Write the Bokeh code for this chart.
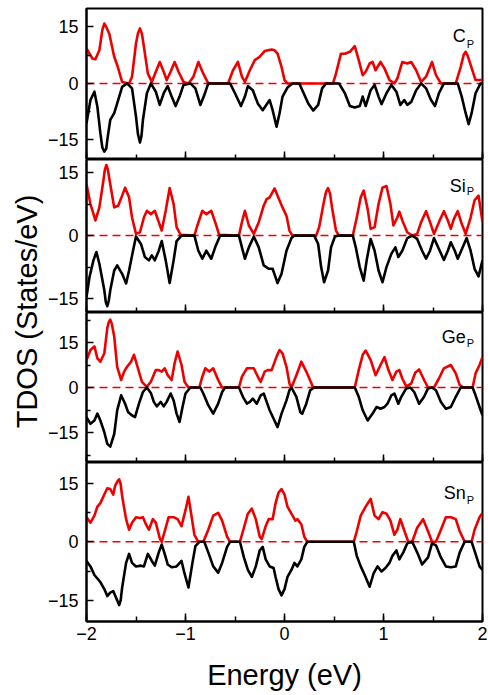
from bokeh.plotting import figure
from bokeh.layouts import column, row
from bokeh.models import Range1d, SingleIntervalTicker, FixedTicker, Span, Label
from bokeh.embed import file_html
from bokeh.resources import INLINE

# ---------------- data (energy eV, TDOS states/eV) ----------------
C_up = [(-2.00,9.3),(-1.94,6.6),(-1.91,6.4),(-1.87,8.8),(-1.84,14.2),(-1.82,15.9),(-1.80,15.0),(-1.77,13.2),(-1.72,7.1),(-1.69,4.9),(-1.64,0.4),(-1.57,0),(-1.54,1.8),(-1.50,10.6),(-1.48,13.3),(-1.46,14.6),(-1.44,13.2),(-1.42,9.7),(-1.38,2.6),(-1.34,0.4),(-1.30,3.1),(-1.26,5.7),(-1.22,3.1),(-1.19,0.9),(-1.15,3.1),(-1.11,5.7),(-1.07,3.1),(-1.02,0.4),(-0.97,0),(-0.92,1.8),(-0.87,5.7),(-0.82,2.6),(-0.77,0),(-0.57,0),(-0.52,3.5),(-0.47,5.7),(-0.43,1.8),(-0.40,0.4),(-0.35,3.5),(-0.30,6.2),(-0.25,7.1),(-0.20,8.6),(-0.13,9.0),(-0.10,8.8),(-0.07,7.9),(-0.03,4.4),(0.00,0.9),(0.03,0),(0.49,0),(0.52,2.6),(0.57,7.9),(0.61,7.9),(0.66,8.4),(0.71,9.9),(0.75,6.2),(0.79,2.2),(0.82,3.1),(0.86,5.3),(0.89,5.7),(0.92,3.5),(0.97,5.7),(1.01,4.0),(1.06,0.9),(1.11,0),(1.14,1.3),(1.19,5.7),(1.24,5.3),(1.28,5.7),(1.33,3.5),(1.38,0.4),(1.43,1.8),(1.49,5.7),(1.53,2.2),(1.58,0),(1.73,0),(1.78,4.4),(1.81,7.6),(1.83,8.4),(1.85,7.4),(1.88,4.9),(1.93,0.9),(2.00,0.9)]
C_dn = [(-2.00,-10.6),(-1.96,-4.4),(-1.92,-2.2),(-1.89,-6.2),(-1.86,-13.2),(-1.84,-17.0),(-1.82,-18.1),(-1.80,-17.3),(-1.79,-15.0),(-1.76,-9.7),(-1.72,-7.9),(-1.69,-5.3),(-1.64,-0.9),(-1.59,0),(-1.54,-1.3),(-1.50,-8.8),(-1.48,-13.5),(-1.46,-15.7),(-1.445,-14.0),(-1.43,-9.7),(-1.39,-2.6),(-1.35,0),(-1.30,-2.2),(-1.26,-5.7),(-1.22,-2.6),(-1.18,-0.7),(-1.14,-3.5),(-1.10,-6.0),(-1.06,-3.5),(-1.02,-0.4),(-0.95,0),(-0.90,-1.3),(-0.85,-5.7),(-0.81,-3.1),(-0.77,0),(-0.55,0),(-0.50,-2.6),(-0.44,-6.0),(-0.40,-3.5),(-0.37,-0.7),(-0.32,-1.8),(-0.27,-5.3),(-0.22,-7.1),(-0.15,-4.4),(-0.12,-7.1),(-0.08,-11.5),(-0.05,-7.9),(-0.02,-3.5),(0.03,-1.1),(0.08,0),(0.15,0),(0.18,-1.8),(0.24,-5.3),(0.29,-7.2),(0.34,-5.7),(0.38,-1.3),(0.42,0),(0.55,0),(0.61,-2.6),(0.66,-6.0),(0.71,-6.4),(0.76,-6.0),(0.79,-3.5),(0.82,-6.0),(0.87,-1.8),(0.91,-0.4),(0.95,-3.5),(0.98,-5.5),(1.03,-2.6),(1.08,-0.4),(1.13,-2.2),(1.17,-5.7),(1.21,-4.4),(1.24,-5.7),(1.28,-4.9),(1.33,-1.8),(1.38,0),(1.43,-1.3),(1.48,-4.4),(1.52,-6.0),(1.56,-2.6),(1.61,0),(1.75,0),(1.79,-3.5),(1.83,-7.9),(1.86,-10.8),(1.89,-7.9),(1.93,-2.6),(1.98,0),(2.00,0)]

Si_up = [(-2.00,12.2),(-1.96,7.5),(-1.91,3.6),(-1.87,6.7),(-1.83,13.0),(-1.815,15.6),(-1.80,16.8),(-1.785,15.8),(-1.76,12.2),(-1.72,6.7),(-1.68,7.1),(-1.64,9.5),(-1.61,11.4),(-1.57,9.1),(-1.54,4.3),(-1.50,0.4),(-1.46,0.8),(-1.42,4.3),(-1.39,5.9),(-1.35,5.1),(-1.31,5.9),(-1.27,3.2),(-1.24,1.2),(-1.20,5.9),(-1.16,11.3),(-1.12,7.5),(-1.09,2.0),(-1.05,0.2),(-0.91,0),(-0.88,2.4),(-0.83,5.9),(-0.79,5.1),(-0.74,5.9),(-0.70,3.2),(-0.66,0.2),(-0.46,0),(-0.43,3.2),(-0.40,5.9),(-0.36,2.4),(-0.31,0.4),(-0.26,3.2),(-0.21,7.1),(-0.18,8.7),(-0.15,9.1),(-0.10,11.2),(-0.07,9.5),(-0.02,6.7),(0.02,4.7),(0.05,1.2),(0.08,0),(0.32,0),(0.35,2.0),(0.40,8.3),(0.42,10.4),(0.44,11.3),(0.46,10.0),(0.48,6.7),(0.52,1.2),(0.55,0),(0.69,0),(0.73,4.3),(0.77,9.1),(0.80,10.7),(0.84,6.3),(0.87,1.6),(0.91,2.0),(0.95,7.5),(0.99,11.4),(1.03,11.8),(1.07,7.5),(1.10,2.4),(1.14,4.3),(1.16,5.7),(1.19,3.6),(1.24,0.8),(1.29,0),(1.34,0.4),(1.38,3.2),(1.43,5.8),(1.47,3.2),(1.51,0.4),(1.56,3.2),(1.61,5.8),(1.65,3.6),(1.68,1.6),(1.71,3.9),(1.75,5.8),(1.79,2.8),(1.83,0.4),(1.88,4.3),(1.92,8.4),(1.96,9.5),(2.00,3.2)]
Si_dn = [(-2.00,-14.6),(-1.97,-9.9),(-1.93,-5.9),(-1.90,-3.9),(-1.87,-6.7),(-1.82,-13.0),(-1.805,-15.8),(-1.79,-16.8),(-1.775,-15.5),(-1.76,-13.0),(-1.72,-8.3),(-1.69,-7.1),(-1.64,-9.1),(-1.60,-11.4),(-1.57,-8.3),(-1.53,-3.6),(-1.50,-0.2),(-1.45,-2.0),(-1.41,-5.1),(-1.37,-5.9),(-1.34,-4.7),(-1.31,-5.9),(-1.27,-3.6),(-1.24,-1.3),(-1.20,-5.9),(-1.16,-11.3),(-1.12,-5.9),(-1.09,-1.3),(-1.04,0),(-0.91,0),(-0.87,-3.6),(-0.83,-5.5),(-0.79,-3.6),(-0.74,-5.5),(-0.70,-2.8),(-0.65,0),(-0.46,0),(-0.43,-2.8),(-0.40,-5.5),(-0.36,-2.8),(-0.31,-0.2),(-0.26,-2.8),(-0.21,-7.1),(-0.16,-7.9),(-0.12,-7.9),(-0.07,-11.3),(-0.03,-9.1),(0.02,-3.6),(0.07,-0.6),(0.10,0),(0.30,0),(0.34,-2.0),(0.37,-7.5),(0.40,-11.1),(0.44,-8.3),(0.47,-2.8),(0.51,-0.2),(0.55,0),(0.69,0),(0.72,-2.8),(0.76,-7.5),(0.80,-10.7),(0.83,-5.9),(0.87,-0.8),(0.91,-3.6),(0.95,-8.3),(0.99,-11.1),(1.03,-7.5),(1.08,-4.3),(1.12,-2.8),(1.15,-5.1),(1.19,-3.6),(1.24,-0.6),(1.29,0),(1.34,-0.8),(1.39,-3.6),(1.43,-5.5),(1.47,-3.6),(1.51,-0.6),(1.56,-3.2),(1.61,-5.8),(1.65,-3.6),(1.68,-1.6),(1.72,-3.6),(1.75,-5.5),(1.80,-2.8),(1.84,-0.6),(1.88,-3.6),(1.92,-7.9),(1.96,-9.7),(2.00,-5.9)]

Ge_up = [(-2.00,9.2),(-1.96,12.5),(-1.92,13.7),(-1.89,9.7),(-1.86,8.6),(-1.82,11.4),(-1.79,19.8),(-1.775,21.8),(-1.76,22.6),(-1.745,21.3),(-1.72,17.0),(-1.69,6.9),(-1.65,2.5),(-1.62,5.3),(-1.59,6.9),(-1.55,8.6),(-1.52,10.9),(-1.49,7.5),(-1.44,1.9),(-1.39,0.2),(-1.35,1.9),(-1.30,5.8),(-1.27,5.8),(-1.24,5.3),(-1.21,6.4),(-1.18,4.1),(-1.14,2.5),(-1.11,8.1),(-1.08,12.0),(-1.04,7.5),(-1.01,1.9),(-0.97,0),(-0.86,0),(-0.83,3.6),(-0.80,6.4),(-0.76,5.3),(-0.72,6.4),(-0.67,2.5),(-0.63,0),(-0.46,0),(-0.43,3.6),(-0.38,6.4),(-0.31,6.4),(-0.26,3.0),(-0.24,1.9),(-0.20,5.3),(-0.17,5.8),(-0.13,5.8),(-0.08,10.3),(-0.05,12.5),(-0.02,11.4),(0.02,6.9),(0.05,1.3),(0.07,0),(0.12,4.1),(0.17,8.6),(0.22,5.3),(0.29,0),(0.71,0),(0.75,5.8),(0.79,10.9),(0.82,12.3),(0.87,9.2),(0.92,4.1),(0.97,7.5),(1.01,10.1),(1.05,5.8),(1.09,2.5),(1.13,5.3),(1.16,5.8),(1.19,3.0),(1.23,0.4),(1.28,1.3),(1.32,4.9),(1.36,6.0),(1.41,2.5),(1.45,0),(1.51,0),(1.56,3.0),(1.61,6.4),(1.68,7.5),(1.73,4.7),(1.77,0.8),(1.81,0),(1.90,0),(1.93,4.7),(1.97,7.5),(2.00,10.1)]
Ge_dn = [(-2.00,-9.9),(-1.96,-12.1),(-1.92,-11.0),(-1.89,-8.7),(-1.86,-11.0),(-1.82,-14.9),(-1.79,-18.8),(-1.76,-19.7),(-1.72,-15.5),(-1.69,-7.6),(-1.65,-2.6),(-1.61,-5.4),(-1.58,-8.2),(-1.54,-9.3),(-1.51,-9.9),(-1.47,-5.4),(-1.43,-1.5),(-1.39,0),(-1.35,-1.8),(-1.32,-4.8),(-1.29,-6.3),(-1.25,-4.8),(-1.22,-6.3),(-1.19,-4.8),(-1.15,-2.0),(-1.12,-4.3),(-1.09,-8.7),(-1.06,-11.5),(-1.03,-6.5),(-1.00,-2.0),(-0.95,0),(-0.85,0),(-0.82,-2.0),(-0.77,-5.9),(-0.72,-8.7),(-0.67,-5.4),(-0.63,-1.5),(-0.60,0),(-0.46,0),(-0.42,-3.1),(-0.38,-5.4),(-0.35,-4.8),(-0.32,-3.7),(-0.28,-5.4),(-0.24,-2.6),(-0.21,-2.0),(-0.18,-4.8),(-0.15,-7.6),(-0.11,-10.4),(-0.07,-13.2),(-0.03,-8.7),(0.02,-4.3),(0.05,-0.9),(0.07,0),(0.12,-3.1),(0.16,-8.2),(0.18,-8.7),(0.22,-5.4),(0.26,-0.9),(0.30,0),(0.71,0),(0.75,-3.1),(0.79,-7.6),(0.84,-11.0),(0.89,-8.7),(0.93,-6.5),(0.97,-7.1),(1.01,-6.5),(1.04,-5.4),(1.08,-2.6),(1.11,-2.0),(1.15,-5.4),(1.18,-3.1),(1.23,-0.3),(1.27,0),(1.31,-1.5),(1.36,-5.4),(1.41,-3.1),(1.45,-0.3),(1.49,0),(1.53,-0.9),(1.58,-4.8),(1.63,-7.1),(1.68,-6.5),(1.73,-3.1),(1.78,0),(1.90,0),(1.93,-2.6),(1.97,-6.5),(2.00,-9.3)]

Sn_up = [(-2.00,6.3),(-1.96,4.9),(-1.92,6.7),(-1.89,9.0),(-1.86,9.9),(-1.82,12.1),(-1.79,13.7),(-1.76,13.5),(-1.73,12.1),(-1.71,14.4),(-1.685,15.6),(-1.67,16.0),(-1.655,14.8),(-1.64,11.7),(-1.60,5.8),(-1.57,3.1),(-1.54,4.9),(-1.50,6.3),(-1.46,6.1),(-1.43,6.3),(-1.40,4.5),(-1.37,3.1),(-1.33,5.8),(-1.30,4.9),(-1.26,0.9),(-1.24,0),(-1.20,3.6),(-1.17,6.3),(-1.12,6.3),(-1.08,5.8),(-1.04,4.0),(-1.00,8.1),(-0.97,11.5),(-0.94,6.7),(-0.91,1.8),(-0.87,0),(-0.82,0),(-0.77,3.1),(-0.72,6.7),(-0.67,7.4),(-0.63,5.4),(-0.58,1.3),(-0.55,0),(-0.45,0),(-0.41,3.6),(-0.37,7.2),(-0.33,8.5),(-0.29,5.8),(-0.25,1.3),(-0.23,0.7),(-0.19,4.0),(-0.16,5.8),(-0.12,5.8),(-0.09,9.9),(-0.06,12.6),(-0.03,13.5),(0.00,12.1),(0.03,9.0),(0.07,7.2),(0.11,5.4),(0.13,5.8),(0.17,4.5),(0.20,1.3),(0.23,0),(0.70,0),(0.73,2.7),(0.77,6.7),(0.82,9.0),(0.87,11.0),(0.91,6.7),(0.95,5.8),(0.99,7.6),(1.03,7.2),(1.07,5.4),(1.11,1.8),(1.14,3.1),(1.17,5.8),(1.20,3.6),(1.25,0),(1.29,0),(1.34,3.6),(1.40,5.8),(1.45,2.7),(1.49,0),(1.53,0),(1.58,3.1),(1.63,6.3),(1.68,6.3),(1.73,5.8),(1.77,2.7),(1.82,0),(1.89,0),(1.92,3.1),(1.97,6.3),(2.00,7.4)]
Sn_dn = [(-2.00,-4.9),(-1.96,-6.3),(-1.92,-8.5),(-1.89,-9.4),(-1.86,-10.3),(-1.82,-12.1),(-1.79,-13.9),(-1.76,-13.0),(-1.73,-12.6),(-1.70,-14.4),(-1.67,-16.2),(-1.655,-15.0),(-1.64,-11.7),(-1.60,-5.4),(-1.57,-3.1),(-1.54,-5.4),(-1.50,-6.3),(-1.45,-6.1),(-1.42,-6.3),(-1.38,-3.1),(-1.34,-4.9),(-1.31,-6.1),(-1.27,-2.7),(-1.24,-0.7),(-1.21,-3.1),(-1.18,-5.8),(-1.14,-6.5),(-1.09,-6.3),(-1.04,-4.9),(-1.01,-8.1),(-0.97,-11.7),(-0.93,-5.4),(-0.90,-1.1),(-0.86,0),(-0.81,0),(-0.77,-2.7),(-0.72,-6.3),(-0.67,-7.9),(-0.63,-5.4),(-0.58,-1.3),(-0.55,0),(-0.45,0),(-0.41,-4.0),(-0.37,-7.2),(-0.33,-9.0),(-0.29,-6.3),(-0.25,-2.2),(-0.22,-1.3),(-0.19,-4.5),(-0.15,-6.3),(-0.11,-6.7),(-0.09,-9.0),(-0.06,-12.1),(-0.03,-13.7),(0.00,-12.1),(0.03,-9.0),(0.07,-7.2),(0.10,-5.4),(0.13,-6.3),(0.17,-4.5),(0.20,-1.3),(0.23,0),(0.70,0),(0.73,-3.6),(0.77,-6.3),(0.81,-8.5),(0.86,-11.5),(0.90,-8.1),(0.94,-6.3),(0.98,-7.6),(1.02,-6.7),(1.06,-5.4),(1.09,-3.6),(1.13,-2.2),(1.16,-4.5),(1.20,-2.7),(1.24,-0.4),(1.29,0),(1.34,-2.7),(1.39,-5.8),(1.45,-4.0),(1.49,-0.4),(1.53,-0.9),(1.58,-4.0),(1.63,-6.3),(1.68,-6.5),(1.73,-6.3),(1.77,-2.7),(1.82,0),(1.89,0),(1.93,-3.1),(1.97,-6.3),(2.00,-7.2)]

names = ["C", "Si", "Ge", "Sn"]
ups = [C_up, Si_up, Ge_up, Sn_up]
dns = [C_dn, Si_dn, Ge_dn, Sn_dn]
ylims = [(-20.2, 19.9), (-18.3, 18.1), (-25.0, 25.0), (-20.4, 20.3)]
y_ticks = [-15, 0, 15]
y_minor = [-22.5, -7.5, 7.5, 22.5]
x_label = "Energy (eV)"
y_label = "TDOS (States/eV)"
# label anchor (energy, value) for element symbol and subscript
sym_pos = [(1.83, 12.7), (1.83, 11.9), (1.83, 16.9), (1.83, 12.6)]
sub_pos = [(1.84, 10.6), (1.84, 10.7), (1.84, 14.9), (1.84, 10.7)]

FONT = "Liberation Sans"
RED = "#ee0000"

TITLE_W = 44
frame_h = [151, 153, 150, 153]
tops = [8, 0, 0, 0]
PANEL_W = 444
BOTTOM = 78

figs = []
for i in range(4):
    last = (i == 3)
    h = frame_h[i] + tops[i] + (BOTTOM if last else 0)
    p = figure(width=PANEL_W, height=h, x_range=Range1d(-2, 2),
               y_range=Range1d(*ylims[i]), output_backend="svg",
               toolbar_location=None, min_border_left=40, min_border_right=6,
               min_border_top=tops[i], min_border_bottom=0)
    p.grid.visible = False
    p.outline_line_color = "black"
    p.outline_line_width = 2
    p.outline_line_alpha = 1

    xa = p.xaxis[0]
    xa.ticker = SingleIntervalTicker(interval=1, num_minor_ticks=2)
    xa.axis_line_width = 2
    xa.major_tick_in = 8
    xa.major_tick_out = 0
    xa.minor_tick_in = 5
    xa.minor_tick_out = 0
    xa.major_tick_line_width = 1.5
    xa.minor_tick_line_width = 1.5
    if last:
        xa.major_label_text_font = FONT
        xa.major_label_text_font_size = "18px"
        xa.major_label_text_color = "black"
        xa.major_label_standoff = 5
        xa.axis_label = x_label
        xa.axis_label_text_font = FONT
        xa.axis_label_text_font_size = "29px"
        xa.axis_label_text_font_style = "normal"
        xa.axis_label_text_color = "black"
        xa.axis_label_standoff = 16
    else:
        xa.major_label_text_font_size = "0px"
        xa.major_label_text_color = None
        xa.major_label_standoff = 0

    ya = p.yaxis[0]
    ya.ticker = FixedTicker(ticks=y_ticks, minor_ticks=y_minor)
    ya.axis_line_width = 2
    ya.major_tick_in = 7
    ya.major_tick_out = 0
    ya.minor_tick_in = 4
    ya.minor_tick_out = 0
    ya.major_tick_line_width = 1.5
    ya.minor_tick_line_width = 1.5
    ya.major_label_text_font = FONT
    ya.major_label_text_font_size = "18px"
    ya.major_label_text_color = "black"
    ya.major_label_standoff = 8

    p.add_layout(Span(location=0, dimension="width", line_color=RED,
                      line_dash="8 5", line_width=1.5, level="underlay"))
    ux = [a for a, b in ups[i]]
    uy = [b for a, b in ups[i]]
    dx = [a for a, b in dns[i]]
    dy = [b for a, b in dns[i]]
    p.line(ux, uy, line_color=RED, line_width=2.6, line_join="round")
    p.line(dx, dy, line_color="black", line_width=2.6, line_join="round")

    p.add_layout(Label(x=sym_pos[i][0], y=sym_pos[i][1], text=names[i],
                       text_align="right", text_baseline="alphabetic",
                       text_font=FONT, text_font_size="18px", text_color="black"))
    p.add_layout(Label(x=sub_pos[i][0], y=sub_pos[i][1], text="P",
                       text_align="left", text_baseline="alphabetic",
                       text_font=FONT, text_font_size="11px", text_color="black"))
    figs.append(p)

total_h = sum(f.height for f in figs)
tfig = figure(width=TITLE_W, height=total_h, x_range=Range1d(0, TITLE_W),
              y_range=Range1d(0, total_h), output_backend="svg",
              toolbar_location=None, min_border=0)
tfig.axis.visible = False
tfig.grid.visible = False
tfig.outline_line_color = None
tfig.add_layout(Label(x=26, y=total_h - 311, text=y_label, angle=90,
                      angle_units="deg", text_align="center",
                      text_baseline="middle", text_font=FONT,
                      text_font_size="29px", text_color="black"))

layout = row(tfig, column(*figs, spacing=0), spacing=0)
open("out.html", "w").write(file_html(layout, INLINE))
